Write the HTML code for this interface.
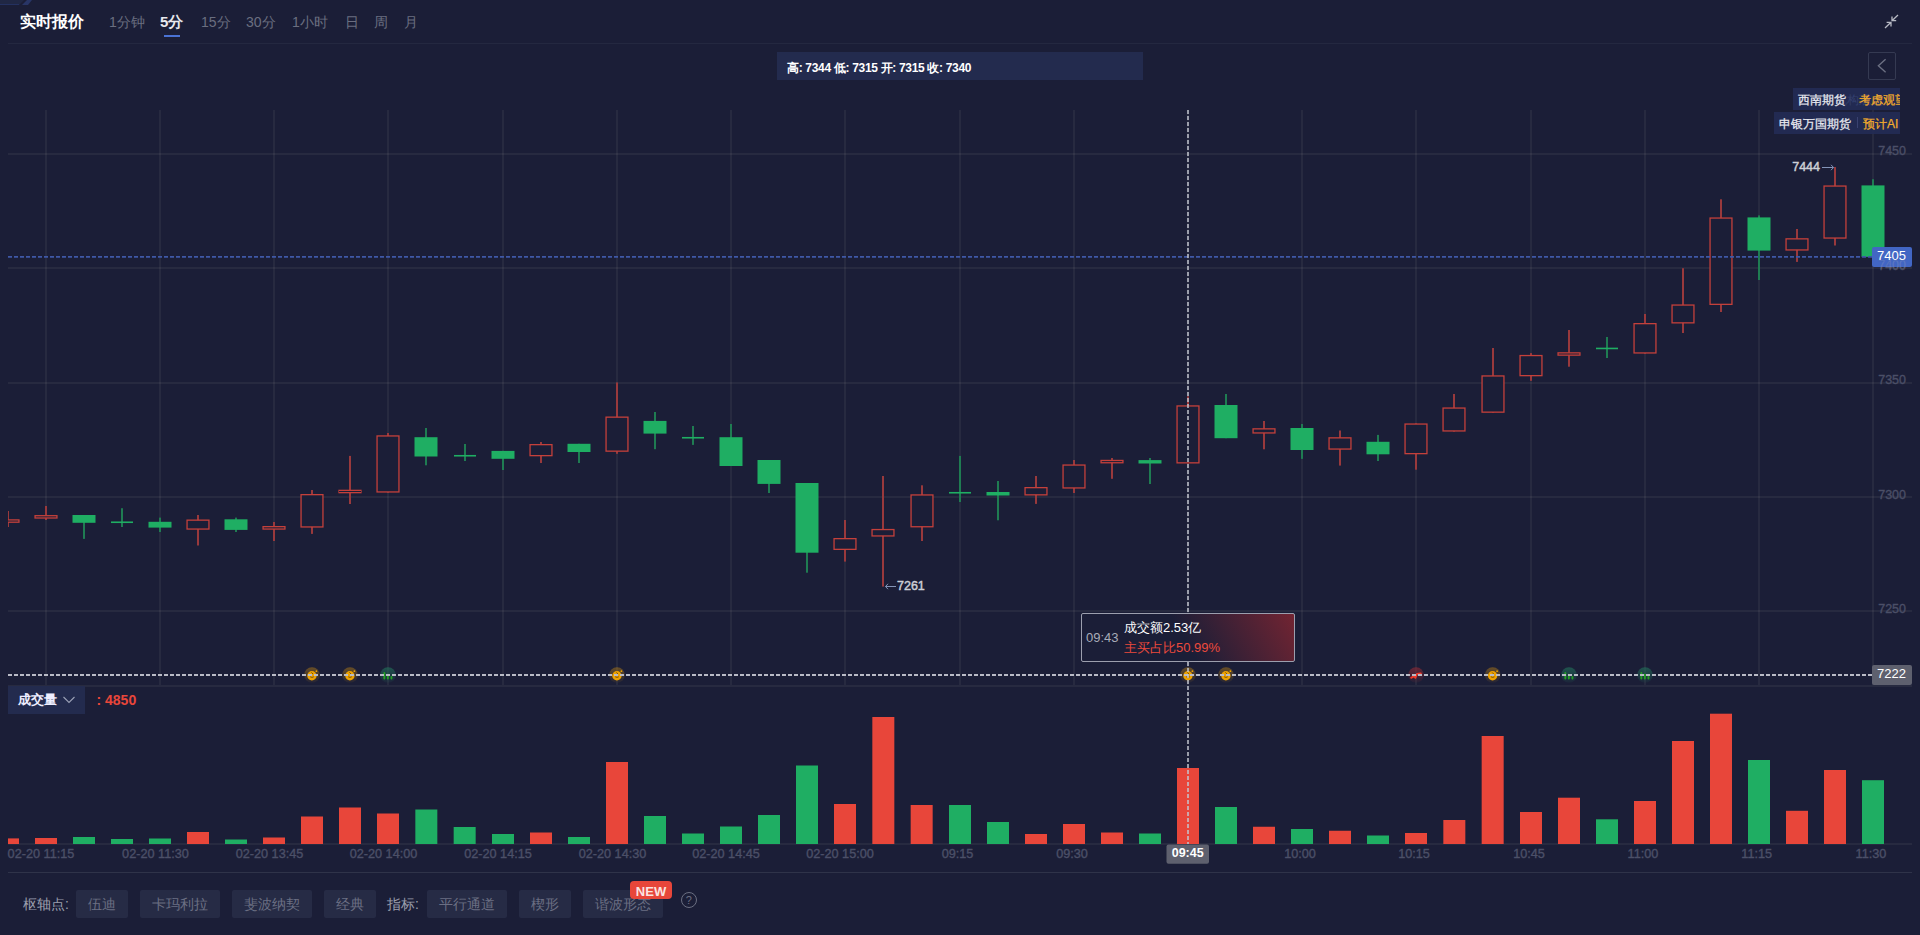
<!DOCTYPE html>
<html><head><meta charset="utf-8">
<style>
* { box-sizing: border-box; }
html,body { margin:0; padding:0; }
body { width:1920px; height:935px; overflow:hidden; background:#1b1e37; font-family:"Liberation Sans", sans-serif; position:relative; }
.abs { position:absolute; white-space:nowrap; }
svg { position:absolute; left:0; top:0; }
.pl { font-family:"Liberation Sans", sans-serif; font-size:12.5px; fill:#4b4f67; stroke:#4b4f67; stroke-width:0.35px; }
.plw { font-family:"Liberation Sans", sans-serif; font-size:13px; fill:#ffffff; }
.tl { font-family:"Liberation Sans", sans-serif; font-size:12.7px; fill:#4c5068; stroke:#4c5068; stroke-width:0.35px; }
.tlw { font-family:"Liberation Sans", sans-serif; font-size:12.5px; fill:#ffffff; font-weight:bold; }
.ex { font-family:"Liberation Sans", sans-serif; font-size:12.5px; fill:#cdcfd7; stroke:#cdcfd7; stroke-width:0.45px; }
.tab { position:absolute; top:12px; font-size:14px; line-height:20px; color:#6a6e80; }
.btn { position:absolute; top:890px; height:28px; line-height:28px; padding:0 12px; background:#262b45; color:#6b6f83; font-size:14px; border-radius:2px; }
</style></head><body>
<div class="abs" style="left:0;top:0;width:24px;height:5px;background:#202744;clip-path:polygon(0 0,100% 0,80% 100%,0 100%);"></div>
<div class="abs" style="left:0;top:4px;width:19px;height:1px;background:#243160;"></div>
<div class="abs" style="left:22px;top:0;width:10px;height:5px;background:#283566;clip-path:polygon(50% 0,100% 0,60% 100%,0 100%);"></div>
<div class="abs" style="left:20px;top:11px;font-size:16px;line-height:22px;font-weight:bold;color:#fff;">实时报价</div>
<div class="tab" style="left:109px;">1分钟</div>
<div class="tab" style="left:160px;color:#e8e9ee;font-weight:bold;font-size:15px;">5分</div>
<div class="abs" style="left:164px;top:35px;width:16px;height:2px;background:#4a72d4;"></div>
<div class="tab" style="left:201px;">15分</div>
<div class="tab" style="left:246px;">30分</div>
<div class="tab" style="left:292px;">1小时</div>
<div class="tab" style="left:345px;">日</div>
<div class="tab" style="left:374px;">周</div>
<div class="tab" style="left:404px;">月</div>
<svg width="1920" height="935" viewBox="0 0 1920 935">
<rect x="45" y="110" width="2" height="575" fill="rgb(200,200,190)" fill-opacity="0.075"/>
<rect x="159" y="110" width="2" height="575" fill="rgb(200,200,190)" fill-opacity="0.075"/>
<rect x="273" y="110" width="2" height="575" fill="rgb(200,200,190)" fill-opacity="0.075"/>
<rect x="387" y="110" width="2" height="575" fill="rgb(200,200,190)" fill-opacity="0.075"/>
<rect x="502" y="110" width="2" height="575" fill="rgb(200,200,190)" fill-opacity="0.075"/>
<rect x="616" y="110" width="2" height="575" fill="rgb(200,200,190)" fill-opacity="0.075"/>
<rect x="730" y="110" width="2" height="575" fill="rgb(200,200,190)" fill-opacity="0.075"/>
<rect x="844" y="110" width="2" height="575" fill="rgb(200,200,190)" fill-opacity="0.075"/>
<rect x="959" y="110" width="2" height="575" fill="rgb(200,200,190)" fill-opacity="0.075"/>
<rect x="1073" y="110" width="2" height="575" fill="rgb(200,200,190)" fill-opacity="0.075"/>
<rect x="1187" y="110" width="2" height="575" fill="rgb(200,200,190)" fill-opacity="0.075"/>
<rect x="1301" y="110" width="2" height="575" fill="rgb(200,200,190)" fill-opacity="0.075"/>
<rect x="1415" y="110" width="2" height="575" fill="rgb(200,200,190)" fill-opacity="0.075"/>
<rect x="1530" y="110" width="2" height="575" fill="rgb(200,200,190)" fill-opacity="0.075"/>
<rect x="1644" y="110" width="2" height="575" fill="rgb(200,200,190)" fill-opacity="0.075"/>
<rect x="1758" y="110" width="2" height="575" fill="rgb(200,200,190)" fill-opacity="0.075"/>
<rect x="1872" y="110" width="2" height="575" fill="rgb(200,200,190)" fill-opacity="0.075"/>
<rect x="8" y="153" width="1904" height="2" fill="rgb(200,200,190)" fill-opacity="0.075"/>
<rect x="8" y="267" width="1904" height="2" fill="rgb(200,200,190)" fill-opacity="0.075"/>
<rect x="8" y="382" width="1904" height="2" fill="rgb(200,200,190)" fill-opacity="0.075"/>
<rect x="8" y="496" width="1904" height="2" fill="rgb(200,200,190)" fill-opacity="0.075"/>
<rect x="8" y="610" width="1904" height="2" fill="rgb(200,200,190)" fill-opacity="0.075"/>
<rect x="8" y="685" width="1904" height="2" fill="rgb(200,200,190)" fill-opacity="0.075"/>
<text x="1906" y="155.4" text-anchor="end" class="pl">7450</text>
<text x="1906" y="269.8" text-anchor="end" class="pl">7400</text>
<text x="1906" y="384.2" text-anchor="end" class="pl">7350</text>
<text x="1906" y="498.8" text-anchor="end" class="pl">7300</text>
<text x="1906" y="612.9" text-anchor="end" class="pl">7250</text>
<clipPath id="cc"><rect x="8" y="100" width="1904" height="586"/></clipPath>
<g clip-path="url(#cc)">
<rect x="7.00" y="511.00" width="2" height="16.00" fill="#99393c"/>
<rect x="-2.95" y="519.90" width="21.9" height="2.30" fill="#1b1e37" stroke="#c4403b" stroke-width="1.3"/>
<rect x="45.00" y="506.00" width="2" height="14.00" fill="#99393c"/>
<rect x="35.05" y="515.70" width="21.9" height="2.30" fill="#1b1e37" stroke="#c4403b" stroke-width="1.3"/>
<rect x="83.00" y="515.00" width="2" height="23.90" fill="#1f7c52"/>
<rect x="72.50" y="515.00" width="23" height="7.80" fill="#1fae63"/>
<rect x="121.00" y="508.20" width="2" height="18.80" fill="#1f7c52"/>
<rect x="111.00" y="521.45" width="22" height="1.6" fill="#1fae63"/>
<rect x="159.00" y="517.60" width="2" height="14.40" fill="#1f7c52"/>
<rect x="148.50" y="521.80" width="23" height="5.80" fill="#1fae63"/>
<rect x="197.00" y="515.00" width="2" height="30.50" fill="#99393c"/>
<rect x="187.05" y="520.15" width="21.9" height="8.90" fill="#1b1e37" stroke="#c4403b" stroke-width="1.3"/>
<rect x="235.00" y="517.60" width="2" height="14.40" fill="#1f7c52"/>
<rect x="224.50" y="519.30" width="23" height="10.60" fill="#1fae63"/>
<rect x="273.00" y="522.00" width="2" height="19.00" fill="#99393c"/>
<rect x="263.05" y="526.65" width="21.9" height="2.40" fill="#1b1e37" stroke="#c4403b" stroke-width="1.3"/>
<rect x="311.00" y="490.00" width="2" height="43.90" fill="#99393c"/>
<rect x="301.05" y="494.65" width="21.9" height="32.30" fill="#1b1e37" stroke="#c4403b" stroke-width="1.3"/>
<rect x="349.00" y="455.90" width="2" height="48.10" fill="#99393c"/>
<rect x="339.05" y="490.35" width="21.9" height="2.30" fill="#1b1e37" stroke="#c4403b" stroke-width="1.3"/>
<rect x="387.00" y="433.00" width="2" height="59.60" fill="#99393c"/>
<rect x="377.05" y="435.95" width="21.9" height="56.00" fill="#1b1e37" stroke="#c4403b" stroke-width="1.3"/>
<rect x="425.00" y="428.00" width="2" height="37.30" fill="#1f7c52"/>
<rect x="414.50" y="437.20" width="23" height="19.30" fill="#1fae63"/>
<rect x="464.00" y="444.00" width="2" height="17.00" fill="#1f7c52"/>
<rect x="454.00" y="454.95" width="22" height="1.6" fill="#1fae63"/>
<rect x="502.00" y="450.90" width="2" height="19.10" fill="#1f7c52"/>
<rect x="491.50" y="450.90" width="23" height="7.90" fill="#1fae63"/>
<rect x="540.00" y="442.00" width="2" height="21.00" fill="#99393c"/>
<rect x="530.05" y="444.65" width="21.9" height="11.00" fill="#1b1e37" stroke="#c4403b" stroke-width="1.3"/>
<rect x="578.00" y="443.80" width="2" height="19.20" fill="#1f7c52"/>
<rect x="567.50" y="443.80" width="23" height="8.20" fill="#1fae63"/>
<rect x="616.00" y="382.50" width="2" height="71.30" fill="#99393c"/>
<rect x="606.05" y="417.15" width="21.9" height="34.00" fill="#1b1e37" stroke="#c4403b" stroke-width="1.3"/>
<rect x="654.00" y="412.00" width="2" height="37.20" fill="#1f7c52"/>
<rect x="643.50" y="420.90" width="23" height="12.70" fill="#1fae63"/>
<rect x="692.00" y="426.00" width="2" height="18.90" fill="#1f7c52"/>
<rect x="682.00" y="436.95" width="22" height="1.6" fill="#1fae63"/>
<rect x="730.00" y="424.00" width="2" height="42.00" fill="#1f7c52"/>
<rect x="719.50" y="437.20" width="23" height="28.80" fill="#1fae63"/>
<rect x="768.00" y="460.00" width="2" height="33.00" fill="#1f7c52"/>
<rect x="757.50" y="460.00" width="23" height="23.90" fill="#1fae63"/>
<rect x="806.00" y="483.00" width="2" height="89.70" fill="#1f7c52"/>
<rect x="795.50" y="483.00" width="23" height="69.70" fill="#1fae63"/>
<rect x="844.00" y="520.00" width="2" height="41.60" fill="#99393c"/>
<rect x="834.05" y="538.65" width="21.9" height="10.70" fill="#1b1e37" stroke="#c4403b" stroke-width="1.3"/>
<rect x="882.00" y="476.00" width="2" height="110.60" fill="#99393c"/>
<rect x="872.05" y="529.55" width="21.9" height="6.40" fill="#1b1e37" stroke="#c4403b" stroke-width="1.3"/>
<rect x="921.00" y="485.30" width="2" height="55.70" fill="#99393c"/>
<rect x="911.05" y="494.95" width="21.9" height="31.80" fill="#1b1e37" stroke="#c4403b" stroke-width="1.3"/>
<rect x="959.00" y="455.90" width="2" height="46.10" fill="#1f7c52"/>
<rect x="949.00" y="491.95" width="22" height="1.6" fill="#1fae63"/>
<rect x="997.00" y="481.00" width="2" height="39.30" fill="#1f7c52"/>
<rect x="986.50" y="492.00" width="23" height="3.50" fill="#1fae63"/>
<rect x="1035.00" y="476.00" width="2" height="27.90" fill="#99393c"/>
<rect x="1025.05" y="487.65" width="21.9" height="7.20" fill="#1b1e37" stroke="#c4403b" stroke-width="1.3"/>
<rect x="1073.00" y="460.00" width="2" height="33.00" fill="#99393c"/>
<rect x="1063.05" y="465.05" width="21.9" height="22.90" fill="#1b1e37" stroke="#c4403b" stroke-width="1.3"/>
<rect x="1111.00" y="458.00" width="2" height="20.80" fill="#99393c"/>
<rect x="1101.05" y="460.45" width="21.9" height="2.30" fill="#1b1e37" stroke="#c4403b" stroke-width="1.3"/>
<rect x="1149.00" y="458.00" width="2" height="26.00" fill="#1f7c52"/>
<rect x="1138.50" y="460.10" width="23" height="3.40" fill="#1fae63"/>
<rect x="1187.00" y="396.30" width="2" height="67.20" fill="#99393c"/>
<rect x="1177.05" y="405.95" width="21.9" height="56.90" fill="#1b1e37" stroke="#c4403b" stroke-width="1.3"/>
<rect x="1225.00" y="394.00" width="2" height="44.20" fill="#1f7c52"/>
<rect x="1214.50" y="405.00" width="23" height="33.20" fill="#1fae63"/>
<rect x="1263.00" y="421.00" width="2" height="28.30" fill="#99393c"/>
<rect x="1253.05" y="428.85" width="21.9" height="4.10" fill="#1b1e37" stroke="#c4403b" stroke-width="1.3"/>
<rect x="1301.00" y="424.00" width="2" height="34.90" fill="#1f7c52"/>
<rect x="1290.50" y="428.00" width="23" height="22.00" fill="#1fae63"/>
<rect x="1339.00" y="430.50" width="2" height="35.10" fill="#99393c"/>
<rect x="1329.05" y="437.85" width="21.9" height="11.20" fill="#1b1e37" stroke="#c4403b" stroke-width="1.3"/>
<rect x="1377.00" y="434.90" width="2" height="26.10" fill="#1f7c52"/>
<rect x="1366.50" y="441.80" width="23" height="12.50" fill="#1fae63"/>
<rect x="1415.00" y="423.40" width="2" height="46.30" fill="#99393c"/>
<rect x="1405.05" y="424.05" width="21.9" height="29.60" fill="#1b1e37" stroke="#c4403b" stroke-width="1.3"/>
<rect x="1453.00" y="394.00" width="2" height="37.60" fill="#99393c"/>
<rect x="1443.05" y="408.05" width="21.9" height="22.90" fill="#1b1e37" stroke="#c4403b" stroke-width="1.3"/>
<rect x="1492.00" y="348.00" width="2" height="64.80" fill="#99393c"/>
<rect x="1482.05" y="375.95" width="21.9" height="36.20" fill="#1b1e37" stroke="#c4403b" stroke-width="1.3"/>
<rect x="1530.00" y="353.10" width="2" height="27.70" fill="#99393c"/>
<rect x="1520.05" y="355.55" width="21.9" height="20.10" fill="#1b1e37" stroke="#c4403b" stroke-width="1.3"/>
<rect x="1568.00" y="330.00" width="2" height="36.70" fill="#99393c"/>
<rect x="1558.05" y="352.85" width="21.9" height="2.30" fill="#1b1e37" stroke="#c4403b" stroke-width="1.3"/>
<rect x="1606.00" y="337.00" width="2" height="21.00" fill="#1f7c52"/>
<rect x="1596.00" y="347.65" width="22" height="1.6" fill="#1fae63"/>
<rect x="1644.00" y="314.00" width="2" height="39.60" fill="#99393c"/>
<rect x="1634.05" y="323.65" width="21.9" height="29.30" fill="#1b1e37" stroke="#c4403b" stroke-width="1.3"/>
<rect x="1682.00" y="268.20" width="2" height="64.80" fill="#99393c"/>
<rect x="1672.05" y="305.05" width="21.9" height="17.80" fill="#1b1e37" stroke="#c4403b" stroke-width="1.3"/>
<rect x="1720.00" y="199.30" width="2" height="112.70" fill="#99393c"/>
<rect x="1710.05" y="218.05" width="21.9" height="86.30" fill="#1b1e37" stroke="#c4403b" stroke-width="1.3"/>
<rect x="1758.00" y="215.40" width="2" height="64.60" fill="#1f7c52"/>
<rect x="1747.50" y="217.40" width="23" height="33.20" fill="#1fae63"/>
<rect x="1796.00" y="229.00" width="2" height="32.90" fill="#99393c"/>
<rect x="1786.05" y="238.85" width="21.9" height="11.10" fill="#1b1e37" stroke="#c4403b" stroke-width="1.3"/>
<rect x="1834.00" y="167.00" width="2" height="78.50" fill="#99393c"/>
<rect x="1824.05" y="186.05" width="21.9" height="52.00" fill="#1b1e37" stroke="#c4403b" stroke-width="1.3"/>
<rect x="1872.00" y="179.20" width="2" height="77.70" fill="#1f7c52"/>
<rect x="1861.50" y="185.40" width="23" height="71.50" fill="#1fae63"/>
</g>
<clipPath id="vc"><rect x="8" y="690" width="1904" height="160"/></clipPath>
<rect x="8" y="843" width="1904" height="2" fill="rgb(200,200,190)" fill-opacity="0.075"/>
<g clip-path="url(#vc)">
<rect x="-3.00" y="838.40" width="22" height="5.60" fill="#e8463a"/>
<rect x="35.00" y="838.00" width="22" height="6.00" fill="#e8463a"/>
<rect x="73.00" y="837.00" width="22" height="7.00" fill="#1fae63"/>
<rect x="111.00" y="839.00" width="22" height="5.00" fill="#1fae63"/>
<rect x="149.00" y="838.50" width="22" height="5.50" fill="#1fae63"/>
<rect x="187.00" y="832.00" width="22" height="12.00" fill="#e8463a"/>
<rect x="225.00" y="839.50" width="22" height="4.50" fill="#1fae63"/>
<rect x="263.00" y="837.50" width="22" height="6.50" fill="#e8463a"/>
<rect x="301.00" y="816.50" width="22" height="27.50" fill="#e8463a"/>
<rect x="339.00" y="807.50" width="22" height="36.50" fill="#e8463a"/>
<rect x="377.00" y="813.50" width="22" height="30.50" fill="#e8463a"/>
<rect x="415.33" y="809.50" width="22" height="34.50" fill="#1fae63"/>
<rect x="453.67" y="827.00" width="22" height="17.00" fill="#1fae63"/>
<rect x="492.00" y="834.00" width="22" height="10.00" fill="#1fae63"/>
<rect x="530.00" y="832.50" width="22" height="11.50" fill="#e8463a"/>
<rect x="568.00" y="837.00" width="22" height="7.00" fill="#1fae63"/>
<rect x="606.00" y="762.00" width="22" height="82.00" fill="#e8463a"/>
<rect x="644.00" y="816.00" width="22" height="28.00" fill="#1fae63"/>
<rect x="682.00" y="833.50" width="22" height="10.50" fill="#1fae63"/>
<rect x="720.00" y="826.50" width="22" height="17.50" fill="#1fae63"/>
<rect x="758.00" y="815.00" width="22" height="29.00" fill="#1fae63"/>
<rect x="796.00" y="765.50" width="22" height="78.50" fill="#1fae63"/>
<rect x="834.00" y="804.00" width="22" height="40.00" fill="#e8463a"/>
<rect x="872.33" y="717.00" width="22" height="127.00" fill="#e8463a"/>
<rect x="910.67" y="805.00" width="22" height="39.00" fill="#e8463a"/>
<rect x="949.00" y="805.00" width="22" height="39.00" fill="#1fae63"/>
<rect x="987.00" y="822.00" width="22" height="22.00" fill="#1fae63"/>
<rect x="1025.00" y="834.00" width="22" height="10.00" fill="#e8463a"/>
<rect x="1063.00" y="824.00" width="22" height="20.00" fill="#e8463a"/>
<rect x="1101.00" y="832.50" width="22" height="11.50" fill="#e8463a"/>
<rect x="1139.00" y="833.50" width="22" height="10.50" fill="#1fae63"/>
<rect x="1177.00" y="768.00" width="22" height="76.00" fill="#e8463a"/>
<rect x="1215.00" y="807.00" width="22" height="37.00" fill="#1fae63"/>
<rect x="1253.00" y="826.75" width="22" height="17.25" fill="#e8463a"/>
<rect x="1291.00" y="829.00" width="22" height="15.00" fill="#1fae63"/>
<rect x="1329.00" y="830.75" width="22" height="13.25" fill="#e8463a"/>
<rect x="1367.00" y="835.50" width="22" height="8.50" fill="#1fae63"/>
<rect x="1405.00" y="833.00" width="22" height="11.00" fill="#e8463a"/>
<rect x="1443.33" y="820.00" width="22" height="24.00" fill="#e8463a"/>
<rect x="1481.67" y="736.00" width="22" height="108.00" fill="#e8463a"/>
<rect x="1520.00" y="812.00" width="22" height="32.00" fill="#e8463a"/>
<rect x="1558.00" y="797.70" width="22" height="46.30" fill="#e8463a"/>
<rect x="1596.00" y="819.30" width="22" height="24.70" fill="#1fae63"/>
<rect x="1634.00" y="801.00" width="22" height="43.00" fill="#e8463a"/>
<rect x="1672.00" y="741.00" width="22" height="103.00" fill="#e8463a"/>
<rect x="1710.00" y="713.70" width="22" height="130.30" fill="#e8463a"/>
<rect x="1748.00" y="760.00" width="22" height="84.00" fill="#1fae63"/>
<rect x="1786.00" y="810.80" width="22" height="33.20" fill="#e8463a"/>
<rect x="1824.00" y="770.00" width="22" height="74.00" fill="#e8463a"/>
<rect x="1862.00" y="780.20" width="22" height="63.80" fill="#1fae63"/>
</g>
<rect x="8" y="872" width="1904" height="1" fill="#2f3349"/>
<rect x="8" y="43" width="1904" height="1" fill="#242840"/>
<defs><linearGradient id="go" x1="0" y1="0" x2="0" y2="1"><stop offset="0" stop-color="#c98a10" stop-opacity="0.45"/><stop offset="1" stop-color="#c98a10" stop-opacity="0.05"/></linearGradient><linearGradient id="gg" x1="0" y1="0" x2="0" y2="1"><stop offset="0" stop-color="#22735a" stop-opacity="0.65"/><stop offset="1" stop-color="#22735a" stop-opacity="0.08"/></linearGradient><linearGradient id="gr" x1="0" y1="0" x2="0" y2="1"><stop offset="0" stop-color="#8a2a35" stop-opacity="0.7"/><stop offset="1" stop-color="#8a2a35" stop-opacity="0.08"/></linearGradient></defs>
<circle cx="312.0" cy="675" r="7.8" fill="url(#go)"/><circle cx="311.9" cy="675.7" r="4.7" fill="#eea200"/><path d="M310.2 676.8 q1.8 1.2 3.6 0 M311.4 672.4 l1.6 1.6" stroke="#6a4a10" stroke-width="0.9" fill="none"/><circle cx="316.4" cy="671.2" r="0.9" fill="#eea200"/>
<circle cx="350.0" cy="675" r="7.8" fill="url(#go)"/><circle cx="349.9" cy="675.7" r="4.7" fill="#eea200"/><path d="M348.2 676.8 q1.8 1.2 3.6 0 M349.4 672.4 l1.6 1.6" stroke="#6a4a10" stroke-width="0.9" fill="none"/><circle cx="354.4" cy="671.2" r="0.9" fill="#eea200"/>
<circle cx="388.0" cy="675" r="7.8" fill="url(#gg)"/><rect x="383.4" y="672" width="1.9" height="7.5" rx="0.9" fill="#23a024"/><rect x="386.9" y="673.8" width="1.9" height="5.7" rx="0.9" fill="#23a024"/><rect x="390.5" y="676" width="1.9" height="3.5" rx="0.9" fill="#23a024"/>
<circle cx="617.0" cy="675" r="7.8" fill="url(#go)"/><circle cx="616.9" cy="675.7" r="4.7" fill="#eea200"/><path d="M615.2 676.8 q1.8 1.2 3.6 0 M616.4 672.4 l1.6 1.6" stroke="#6a4a10" stroke-width="0.9" fill="none"/><circle cx="621.4" cy="671.2" r="0.9" fill="#eea200"/>
<circle cx="1188.0" cy="675" r="7.8" fill="url(#go)"/><circle cx="1187.9" cy="675.7" r="4.7" fill="#eea200"/><path d="M1186.2 676.8 q1.8 1.2 3.6 0 M1187.4 672.4 l1.6 1.6" stroke="#6a4a10" stroke-width="0.9" fill="none"/><circle cx="1192.4" cy="671.2" r="0.9" fill="#eea200"/>
<circle cx="1226.0" cy="675" r="7.8" fill="url(#go)"/><circle cx="1225.9" cy="675.7" r="4.7" fill="#eea200"/><path d="M1224.2 676.8 q1.8 1.2 3.6 0 M1225.4 672.4 l1.6 1.6" stroke="#6a4a10" stroke-width="0.9" fill="none"/><circle cx="1230.4" cy="671.2" r="0.9" fill="#eea200"/>
<circle cx="1416.0" cy="675" r="7.8" fill="url(#gr)"/><path d="M1411.1 677.9 L1414.2 676.1 L1415.4 677.9 L1417.0 673.9 L1420.8 673.4" stroke="#f03a2a" stroke-width="1.8" fill="none" stroke-linejoin="round" stroke-linecap="round"/>
<circle cx="1492.7" cy="675" r="7.8" fill="url(#go)"/><circle cx="1492.6000000000001" cy="675.7" r="4.7" fill="#eea200"/><path d="M1490.9 676.8 q1.8 1.2 3.6 0 M1492.1000000000001 672.4 l1.6 1.6" stroke="#6a4a10" stroke-width="0.9" fill="none"/><circle cx="1497.1000000000001" cy="671.2" r="0.9" fill="#eea200"/>
<circle cx="1569.0" cy="675" r="7.8" fill="url(#gg)"/><rect x="1564.4" y="672" width="1.9" height="7.5" rx="0.9" fill="#23a024"/><rect x="1567.9" y="673.8" width="1.9" height="5.7" rx="0.9" fill="#23a024"/><rect x="1571.5" y="676" width="1.9" height="3.5" rx="0.9" fill="#23a024"/>
<circle cx="1645.0" cy="675" r="7.8" fill="url(#gg)"/><rect x="1640.4" y="672" width="1.9" height="7.5" rx="0.9" fill="#23a024"/><rect x="1643.9" y="673.8" width="1.9" height="5.7" rx="0.9" fill="#23a024"/><rect x="1647.5" y="676" width="1.9" height="3.5" rx="0.9" fill="#23a024"/>
<line x1="8" y1="256.9" x2="1872" y2="256.9" stroke="#3f58a6" stroke-width="1.6" stroke-dasharray="4 2"/>
<line x1="8" y1="675" x2="1872" y2="675" stroke="#b9bbc6" stroke-width="2" stroke-dasharray="4 2"/>
<line x1="1188" y1="110" x2="1188" y2="844" stroke="#c4c6d0" stroke-width="1.5" stroke-dasharray="4 2"/>
<rect x="1872" y="247" width="40" height="20" rx="2" fill="#4266c4"/>
<text x="1906" y="260" text-anchor="end" class="plw">7405</text>
<text x="1906" y="268.8" text-anchor="end" class="pl" style="fill:#ffffff" opacity="0.2">7400</text>
<rect x="1872" y="665" width="40" height="20" rx="2" fill="#5e606e"/>
<text x="1906" y="678.2" text-anchor="end" class="plw">7222</text>
<text x="41" y="858" text-anchor="middle" class="tl">02-20 11:15</text>
<text x="155.5" y="858" text-anchor="middle" class="tl">02-20 11:30</text>
<text x="269.5" y="858" text-anchor="middle" class="tl">02-20 13:45</text>
<text x="383.5" y="858" text-anchor="middle" class="tl">02-20 14:00</text>
<text x="498" y="858" text-anchor="middle" class="tl">02-20 14:15</text>
<text x="612.5" y="858" text-anchor="middle" class="tl">02-20 14:30</text>
<text x="726" y="858" text-anchor="middle" class="tl">02-20 14:45</text>
<text x="840" y="858" text-anchor="middle" class="tl">02-20 15:00</text>
<text x="957.5" y="858" text-anchor="middle" class="tl">09:15</text>
<text x="1072" y="858" text-anchor="middle" class="tl">09:30</text>
<text x="1300" y="858" text-anchor="middle" class="tl">10:00</text>
<text x="1414" y="858" text-anchor="middle" class="tl">10:15</text>
<text x="1529" y="858" text-anchor="middle" class="tl">10:45</text>
<text x="1643" y="858" text-anchor="middle" class="tl">11:00</text>
<text x="1756.7" y="858" text-anchor="middle" class="tl">11:15</text>
<text x="1871" y="858" text-anchor="middle" class="tl">11:30</text>
<rect x="1166.5" y="844.5" width="42.5" height="19.3" rx="2" fill="#5e606e"/>
<text x="1187.7" y="856.8" text-anchor="middle" class="tlw">09:45</text>
<text x="1820" y="171" text-anchor="end" class="ex">7444</text>
<path d="M1822 167.5 h11.5 M1831 164.8 l2.6 2.7 l-2.6 2.7" stroke="#8494b8" stroke-width="1" fill="none"/>
<path d="M885.5 586.5 h10.5 M888 583.8 l-2.5 2.7 l2.5 2.7" stroke="#8494b8" stroke-width="1" fill="none"/>
<text x="897" y="590" class="ex">7261</text>
</svg>
<!-- compress icon -->
<svg width="20" height="20" style="left:1882px;top:12px" viewBox="0 0 20 20">
<path d="M16 3 L10 8.7 M10 4.4 V8.7 H14.2 M3 16 L9 10.3 M4.6 10.3 H9 V14.5" stroke="#b8bac4" stroke-width="1.3" fill="none"/>
</svg>
<div class="abs" style="left:1868px;top:52px;width:28px;height:28px;border:1px solid #353a52;border-radius:2px;"></div>
<svg width="20" height="20" style="left:1872px;top:56px" viewBox="0 0 20 20">
<path d="M13.6 3.2 L6.4 9.8 L13.6 16.2" stroke="#6b6f82" stroke-width="1.4" fill="none"/>
</svg>
<div class="abs" style="left:777px;top:52px;width:366px;height:28px;background:#232b4e;"></div>
<div class="abs" style="left:787px;top:59.5px;font-size:12px;line-height:16px;font-weight:bold;color:#fff;letter-spacing:-0.32px;">高: 7344 低: 7315 开: 7315 收: 7340</div>
<div class="abs" style="left:1793px;top:88px;width:107px;height:21.5px;background:rgba(35,43,85,0.92);overflow:hidden;">
  <div class="abs" style="left:42px;top:3.5px;font-size:12px;line-height:16px;color:#4a5a90;opacity:0.45;">机构观点</div>
  <div class="abs" style="left:5px;top:3.5px;font-size:12px;line-height:16px;color:#e8e9f0;-webkit-text-stroke:0.25px #e8e9f0;">西南期货</div>
  <div class="abs" style="left:66px;top:3.5px;font-size:12px;line-height:16px;color:#f2ab2c;-webkit-text-stroke:0.25px #f2ab2c;">考虑观望</div>
</div>
<div class="abs" style="left:1774px;top:112px;width:126px;height:21.5px;background:rgba(35,43,85,0.92);overflow:hidden;">
  <div class="abs" style="left:5px;top:3.5px;font-size:12px;line-height:16px;color:#e8e9f0;-webkit-text-stroke:0.25px #e8e9f0;">申银万国期货</div>
  <div class="abs" style="left:83px;top:5px;width:1px;height:11px;background:#3a4270;"></div>
  <div class="abs" style="left:89px;top:3.5px;font-size:12px;line-height:16px;color:#f2ab2c;-webkit-text-stroke:0.25px #f2ab2c;">预计AI</div>
</div>
<!-- tooltip -->
<div class="abs" style="left:1081px;top:613px;width:214px;height:49px;border:1px solid #9c9fae;border-radius:2px;background:linear-gradient(60deg, rgba(27,30,55,1) 48%, rgba(114,36,50,1) 100%);"></div>
<div class="abs" style="left:1086px;top:630px;font-size:13px;line-height:16px;color:#a9acb9;">09:43</div>
<div class="abs" style="left:1124px;top:620px;font-size:13px;line-height:16px;color:#ffffff;">成交额2.53亿</div>
<div class="abs" style="left:1124px;top:640px;font-size:13px;line-height:16px;color:#ec4a3c;">主买占比50.99%</div>
<!-- volume selector -->
<div class="abs" style="left:8px;top:686px;width:77px;height:28px;background:#232b4e;"></div>
<div class="abs" style="left:18px;top:692px;font-size:13px;line-height:16px;font-weight:bold;color:#eef;">成交量</div>
<svg width="14" height="10" style="left:62px;top:695px" viewBox="0 0 14 10"><path d="M1.5 2 L7 7.5 L12.5 2" stroke="#9aa0b6" stroke-width="1.1" fill="none"/></svg>
<div class="abs" style="left:96.5px;top:691.5px;font-size:14px;line-height:17px;font-weight:bold;color:#e8463a;">: 4850</div>
<!-- bottom toolbar -->
<div class="abs" style="left:23px;top:895px;font-size:14px;line-height:18px;color:#9c9fad;">枢轴点:</div>
<div class="btn" style="left:76px;">伍迪</div>
<div class="btn" style="left:140px;">卡玛利拉</div>
<div class="btn" style="left:232px;">斐波纳契</div>
<div class="btn" style="left:324px;">经典</div>
<div class="abs" style="left:387px;top:895px;font-size:14px;line-height:18px;color:#9c9fad;">指标:</div>
<div class="btn" style="left:427px;">平行通道</div>
<div class="btn" style="left:519px;">楔形</div>
<div class="btn" style="left:583px;">谐波形态</div>
<div class="abs" style="left:630px;top:881px;width:42px;height:17.5px;background:#e8463a;border-radius:4px;color:#fff;font-size:13px;font-weight:bold;line-height:21px;text-align:center;color:#fbe3e1;">NEW</div>
<div class="abs" style="left:680.5px;top:891.5px;width:16.5px;height:16.5px;border:1px solid #6b6f82;border-radius:50%;color:#6b6f82;font-size:11px;line-height:14.5px;text-align:center;">?</div>
</body></html>
